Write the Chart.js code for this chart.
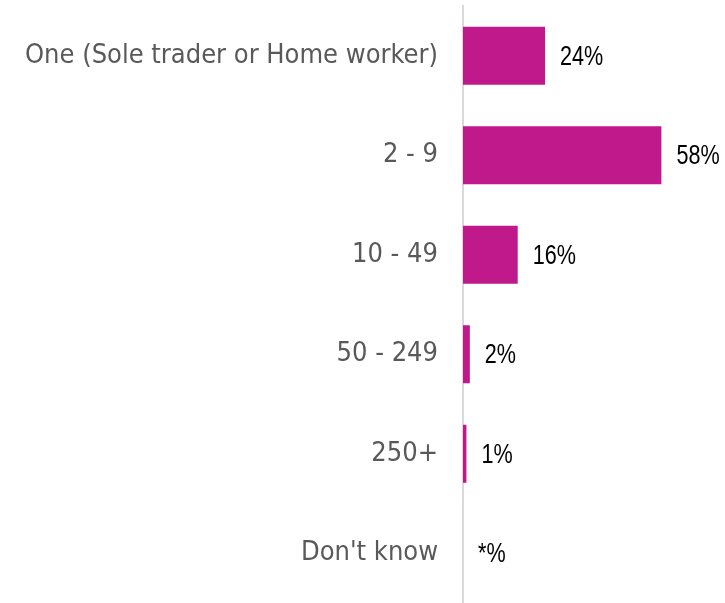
<!DOCTYPE html>
<html lang="en">
<head>
  <meta charset="UTF-8">
  <title>Company size</title>
  <script src="https://cdn.jsdelivr.net/npm/chart.js"></script>
  <style>
    html, body { margin: 0; padding: 0; background: #fff; }
    #wrap { width: 725px; height: 603px; }
  </style>
</head>
<body>
  <div id="wrap"><canvas id="sizeChart" width="725" height="603"></canvas></div>

  <script>
    // categories and shares (%), 0 = under half a percent
    const categories = ['One (Sole trader or Home worker)', '2 - 9', '10 - 49', '50 - 249', '250+', "Don't know"];
    const shares = [24, 58, 16, 2, 1, 0];

    const barColour = '#C0198B';

    // percent labels to the right of each bar (narrowed Liberation Sans)
    const valueLabels = {
      id: 'valueLabels',
      afterDatasetsDraw(chart) {
        const c = chart.ctx;
        const meta = chart.getDatasetMeta(0);
        meta.data.forEach((bar, i) => {
          const v = shares[i];
          const txt = v > 0 ? v + '%' : '*%';
          c.save();
          c.translate(bar.x + 15, bar.y + 1.5);
          c.scale(0.8, 1);
          c.font = '27px "Liberation Sans", Arial, sans-serif';
          c.fillStyle = '#000';
          c.textBaseline = 'middle';
          c.textAlign = 'left';
          c.fillText(txt, 0, 0);
          c.restore();
        });
      }
    };

    new Chart(document.getElementById('sizeChart'), {
      type: 'bar',
      data: {
        labels: categories,
        datasets: [{
          data: shares,
          backgroundColor: barColour,
          barPercentage: 0.583,
          categoryPercentage: 1
        }]
      },
      options: {
        indexAxis: 'y',
        responsive: false,
        animation: false,
        layout: { padding: { top: 6, bottom: 0, left: 0, right: 0 } },
        plugins: { legend: { display: false }, tooltip: { enabled: false } },
        scales: {
          x: { display: false, min: 0, max: 76.6 },
          y: {
            afterFit(scale) {
              scale.width = 463;
              scale.paddingTop = 0;
              scale.paddingBottom = 0;
            },
            grid: { display: false, drawTicks: false },
            border: { display: true, color: '#d9d9d9', width: 2 },
            ticks: {
              padding: 25,
              color: '#595959',
              font: { family: '"DejaVu Sans Condensed", "DejaVu Sans", sans-serif', size: 27 }
            }
          }
        }
      },
      plugins: [valueLabels]
    });
  </script>
</body>
</html>
